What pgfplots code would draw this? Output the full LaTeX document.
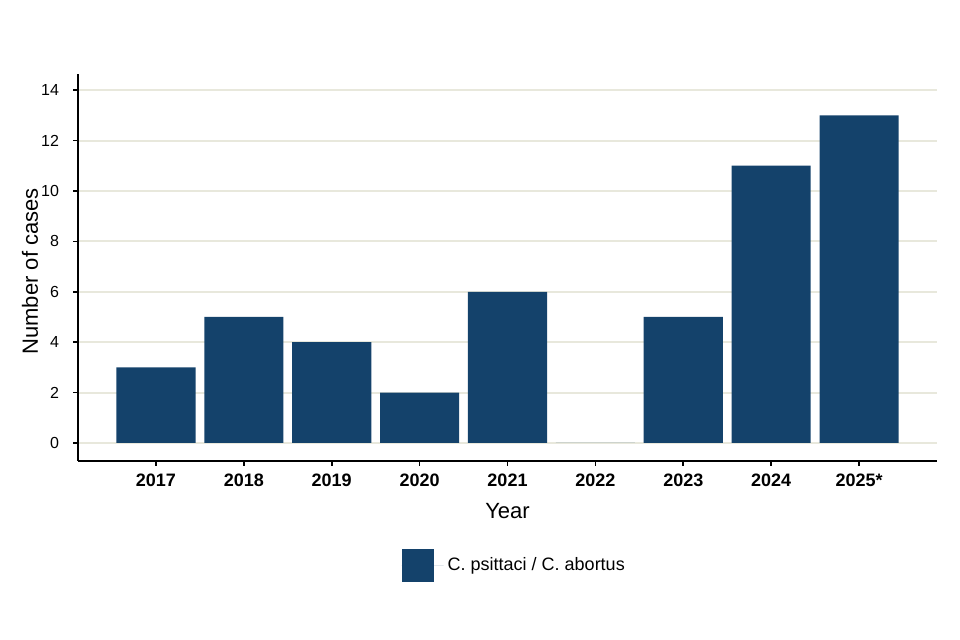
\documentclass[border=0pt]{standalone}
\usepackage{fontspec}
\setmainfont{Liberation Sans}
\usepackage{pgfplots}
\pgfplotsset{compat=1.18}
\definecolor{barblue}{RGB}{20,66,107}
\definecolor{gridbeige}{RGB}{232,232,220}

\begin{document}
\begin{tikzpicture}
\useasboundingbox (0,0) rectangle (480pt,320pt);
\begin{axis}[
    at={(39pt,89.5pt)}, anchor=south west,
    scale only axis, width=429.5pt, height=193.5pt,
    ybar, bar width=0.9,
    xmin=-0.887, xmax=8.887,
    ymin=-0.714, ymax=14.64,
    axis x line*=bottom, axis y line*=left,
    axis line style={line width=1pt, -},
    xtick={0,...,8},
    xticklabels={2017,2018,2019,2020,2021,2022,2023,2024,2025*},
    ytick={0,2,...,14},
    tick style={black, line width=0.8pt},
    major tick length=2.5pt,
    tick align=outside,
    ymajorgrids, grid style={gridbeige, line width=1pt},
    /pgf/number format/assume math mode=true,
    yticklabel style={font=\fontsize{8}{9}\selectfont, xshift=-3.5pt},
    xticklabel style={font=\fontsize{9}{10}\selectfont\bfseries, yshift=-0.5pt},
    ylabel={Number of cases}, xlabel={Year},
    label style={font=\fontsize{11}{12}\selectfont},
    ylabel style={at={(axis description cs:-0.056,0.49)}, anchor=center},
    xlabel style={at={(axis description cs:0.5,-0.129)}, anchor=center},
    legend style={draw=none, at={(0.509,-0.271)}, anchor=center,
        font=\fontsize{9}{10}\selectfont},
    legend image code/.code={\fill[barblue] (0pt,-8.25pt) rectangle (16pt,8.25pt);
        \path (0pt,0pt) -- (21pt,0pt);},
    legend cell align=left,
]
\addplot[fill=barblue, draw=none] coordinates {
    (0,3) (1,5) (2,4) (3,2) (4,6) (5,0) (6,5) (7,11) (8,13)
};
\addlegendentry{C. psittaci / C. abortus}
\end{axis}
\end{tikzpicture}
\end{document}
